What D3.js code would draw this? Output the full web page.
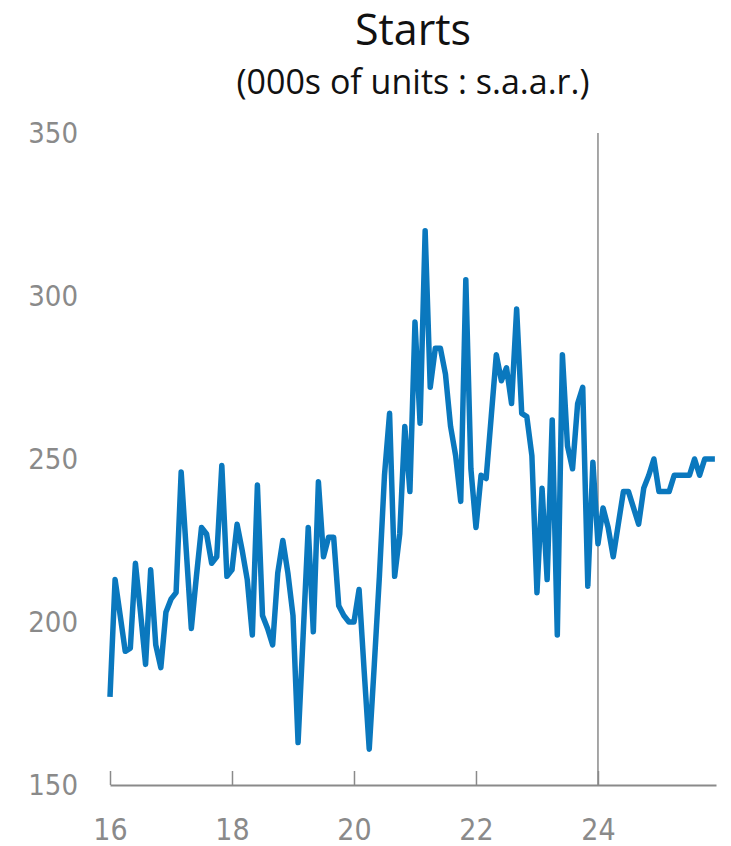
<!DOCTYPE html>
<html>
<head>
<meta charset="utf-8">
<script src="https://cdn.jsdelivr.net/npm/d3@7"></script>
<style>
  body { margin: 0; background: #fff; }
  .tick text { font-family: "Liberation Sans Narrow", "DejaVu Sans Condensed", sans-serif; fill: #8a8a8a; }
</style>
</head>
<body>
<div id="chart"></div>
<script>
// monthly starts, Jan 2016 .. Dec 2025 (000s of units, s.a.a.r.)
var startYear = 2016;
var starts2016 = [177, 213, 202, 191, 192, 218, 203, 187, 216, 193, 186, 203];
var starts2017 = [207, 209, 246, 222, 198, 214, 229, 227, 218, 220, 248, 214];
var starts2018 = [216, 230, 222, 213, 196, 242, 202, 198, 193, 215, 225, 215];
var starts2019 = [202, 163, 196, 229, 197, 243, 220, 226, 226, 205, 202, 200];
var starts2020 = [200, 210, 185, 161, 187, 214, 245, 264, 214, 227, 260, 240];
var starts2021 = [292, 261, 320, 272, 284, 284, 276, 260, 251, 237, 305, 247];
var starts2022 = [229, 245, 244, 263, 282, 274, 278, 267, 296, 264, 263, 251];
var starts2023 = [209, 241, 213, 262, 196, 282, 254, 247, 267, 272, 211, 249];
var starts2024 = [224, 235, 229, 220, 230, 240, 240, 235, 230, 241, 245, 250];
var starts2025 = [240, 240, 240, 245, 245, 245, 245, 250, 245, 250, 250, 250];

var yTicks = [150, 200, 250, 300, 350];
var xTicks = [2016, 2018, 2020, 2022, 2024];
var forecastStart = 2024;

var svgWidth = 731;
var svgHeight = 846;
var margin = { top: 133, right: 15, bottom: 61, left: 110 };
var width = svgWidth - margin.left - margin.right;
var height = svgHeight - margin.top - margin.bottom;

var svg = d3.select("#chart")
  .append("svg")
  .attr("width", svgWidth)
  .attr("height", svgHeight);

var chartGroup = svg.append("g")
  .attr("transform", `translate(${margin.left}, ${margin.top})`);

// flatten into {t, value}
var series = [starts2016, starts2017, starts2018, starts2019, starts2020,
  starts2021, starts2022, starts2023, starts2024, starts2025];
var data = [];
series.forEach(function(yr, i) {
  yr.forEach(function(v, m) {
    data.push({ t: startYear + i + m / 12, value: v });
  });
});

var xScale = d3.scaleLinear()
  .domain([2016, 2025.935])
  .range([0, width]);

var yScale = d3.scaleLinear()
  .domain([150, 350])
  .range([height, 0]);

// y labels only, no axis line
var leftAxis = d3.axisLeft(yScale)
  .tickValues(yTicks)
  .tickSize(0)
  .tickPadding(32);

chartGroup.append("g")
  .call(leftAxis)
  .call(g => g.select(".domain").remove())
  .selectAll("text")
  .attr("font-size", "29px");

// x axis, ticks pointing up
var bottomAxis = d3.axisBottom(xScale)
  .tickValues(xTicks)
  .tickSize(-14)
  .tickSizeOuter(0)
  .tickPadding(34)
  .tickFormat(d => String(d).slice(2));

var xAxisG = chartGroup.append("g")
  .attr("transform", `translate(0, ${height})`)
  .call(bottomAxis);

xAxisG.select(".domain").attr("stroke", "#8a8a8a").attr("stroke-width", 2);
xAxisG.selectAll(".tick line").attr("stroke", "#8a8a8a").attr("stroke-width", 1.5);
xAxisG.selectAll("text").attr("font-size", "30px");

// forecast divider
chartGroup.append("line")
  .attr("x1", xScale(forecastStart))
  .attr("x2", xScale(forecastStart))
  .attr("y1", 0)
  .attr("y2", height)
  .attr("stroke", "#8a8a8a")
  .attr("stroke-width", 1.5);

// the line
var line = d3.line()
  .x(d => xScale(d.t))
  .y(d => yScale(d.value));

chartGroup.append("path")
  .datum(data)
  .attr("fill", "none")
  .attr("stroke", "#0a78be")
  .attr("stroke-width", 5.5)
  .attr("stroke-linejoin", "round")
  .attr("d", line);

// titles
svg.append("text")
  .attr("x", margin.left + width / 2)
  .attr("y", 45)
  .attr("text-anchor", "middle")
  .attr("font-family", "'Open Sans', 'Noto Sans', sans-serif")
  .attr("font-size", "43px")
  .attr("fill", "#111")
  .text("Starts");

svg.append("text")
  .attr("x", margin.left + width / 2)
  .attr("y", 94)
  .attr("text-anchor", "middle")
  .attr("font-family", "'Open Sans', 'Noto Sans', sans-serif")
  .attr("font-size", "34px")
  .attr("fill", "#111")
  .text("(000s of units : s.a.a.r.)");
</script>
</body>
</html>
